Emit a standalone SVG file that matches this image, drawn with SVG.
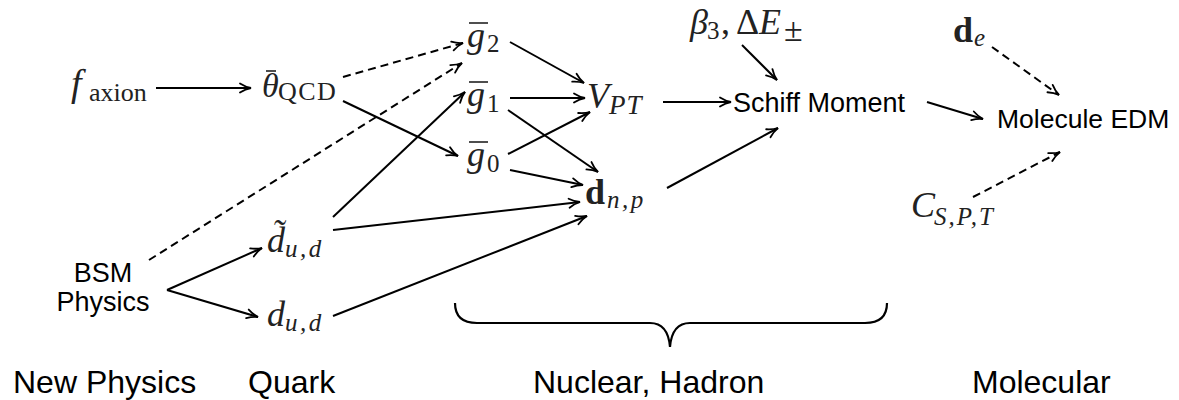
<svg xmlns="http://www.w3.org/2000/svg" width="1179" height="400" viewBox="0 0 1179 400">
<defs>
<marker id="ah" viewBox="0 0 14 12" refX="12.5" refY="6" markerWidth="14" markerHeight="12" markerUnits="userSpaceOnUse" orient="auto">
<path d="M1.5,1.5 Q7,5 12.5,6 Q7,7 1.5,10.5" fill="none" stroke="#000" stroke-width="1.8" stroke-linecap="round"/>
</marker>
<style>
.m{font-family:"Liberation Serif","Times New Roman",serif;font-style:italic;font-size:36px;fill:#222}
.r{font-style:normal}
.b{font-style:normal;font-weight:bold}
.s{font-size:25px}
.t{font-family:"Liberation Sans",Arial,sans-serif;font-size:27px;fill:#000}
.lbl{font-family:"Liberation Sans",Arial,sans-serif;font-size:32px;fill:#000}
.c line{stroke:#000;stroke-width:2;fill:none;marker-end:url(#ah)}
.c line.d{stroke-dasharray:8 5}
.bar{stroke:#222;stroke-width:1.6}
.brace{fill:none;stroke:#000;stroke-width:2.2}
</style>
</defs>
<rect width="1179" height="400" fill="#fff"/>

<g id="connectors" class="c">
<line x1="156" y1="88" x2="251" y2="88"/>
<line class="d" x1="343" y1="77" x2="463" y2="43"/>
<line x1="343" y1="101" x2="458" y2="156"/>
<line class="d" x1="149" y1="260" x2="462" y2="63"/>
<line x1="167" y1="290" x2="262" y2="248"/>
<line x1="167" y1="290" x2="258" y2="317"/>
<line x1="333" y1="217" x2="465" y2="92"/>
<line x1="333" y1="230" x2="580" y2="202"/>
<line x1="333" y1="316" x2="587" y2="216"/>
<line x1="510" y1="42" x2="584" y2="83"/>
<line x1="510" y1="98" x2="585" y2="98"/>
<line x1="508" y1="110" x2="598" y2="172"/>
<line x1="508" y1="154" x2="590" y2="112"/>
<line x1="510" y1="170" x2="583" y2="185"/>
<line x1="663" y1="102" x2="731" y2="102"/>
<line x1="742" y1="45" x2="777" y2="80"/>
<line x1="667" y1="188" x2="778" y2="128"/>
<line x1="927" y1="102" x2="983" y2="119"/>
<line class="d" x1="992" y1="47" x2="1059" y2="95"/>
<line class="d" x1="973" y1="197" x2="1060" y2="152"/>
</g>

<g id="n-faxion"><text class="m" x="71" y="96" style="font-size:38px">f<tspan class="r" x="89" y="101" style="font-size:26px">axion</tspan></text></g>
<g id="n-theta"><text class="m" x="262" y="97" style="font-size:34px">θ<tspan class="r" x="278" y="100" style="font-size:26px" letter-spacing="1.5">QCD</tspan></text><line class="bar" x1="266" y1="71" x2="276" y2="71"/></g>
<g id="n-g2"><text class="m" x="467" y="47">g<tspan class="r s" x="487" y="52">2</tspan></text><line class="bar" x1="469" y1="23" x2="488" y2="23"/></g>
<g id="n-g1"><text class="m" x="467" y="106">g<tspan class="r s" x="487" y="112">1</tspan></text><line class="bar" x1="469" y1="82" x2="488" y2="82"/></g>
<g id="n-g0"><text class="m" x="467" y="166">g<tspan class="r s" x="487" y="172">0</tspan></text><line class="bar" x1="469" y1="142" x2="488" y2="142"/></g>
<g id="n-vpt"><text class="m" x="587" y="108">V<tspan x="609" y="114" style="font-size:27px" letter-spacing="1">PT</tspan></text></g>
<g id="n-dnp"><text class="m" x="585" y="204"><tspan class="b">d</tspan><tspan class="s" x="607" y="208" letter-spacing="2.5">n,p</tspan></text></g>
<g id="n-beta"><text class="m" x="690" y="34">β<tspan class="r s" x="707" y="39">3</tspan><tspan class="r" x="721" y="34">,</tspan><tspan class="r" x="736" y="34">Δ</tspan><tspan x="759" y="34">E</tspan><tspan class="r" x="784" y="41" style="font-size:34px">±</tspan></text></g>
<g id="n-schiff"><text class="t" x="733" y="112">Schiff Moment</text></g>
<g id="n-mol"><text class="t" x="997" y="128" style="font-size:26.5px">Molecule EDM</text></g>
<g id="n-de"><text class="m" x="953" y="42"><tspan class="b">d</tspan><tspan class="s" x="974" y="46">e</tspan></text></g>
<g id="n-cspt"><text class="m" x="911" y="217">C<tspan class="s" x="934" y="225" letter-spacing="2">S,P,T</tspan></text></g>
<g id="n-bsm"><text class="t" x="103" y="282" text-anchor="middle">BSM</text><text class="t" x="103" y="311" text-anchor="middle">Physics</text></g>
<g id="n-dtilde"><text class="m" x="267" y="252">d̃<tspan class="s" x="285" y="257" letter-spacing="2.5">u,d</tspan></text></g>
<g id="n-dud"><text class="m" x="267" y="326">d<tspan class="s" x="285" y="331" letter-spacing="2.5">u,d</tspan></text></g>

<path class="brace" d="M455,303 Q455,323 477,323 L650,323 Q668,323 670,347 Q672,323 690,323 L865,323 Q887,323 887,303"/>

<text class="lbl" x="13" y="393">New Physics</text>
<text class="lbl" x="248" y="393">Quark</text>
<text class="lbl" x="533" y="393">Nuclear, Hadron</text>
<text class="lbl" x="972" y="393">Molecular</text>
</svg>
